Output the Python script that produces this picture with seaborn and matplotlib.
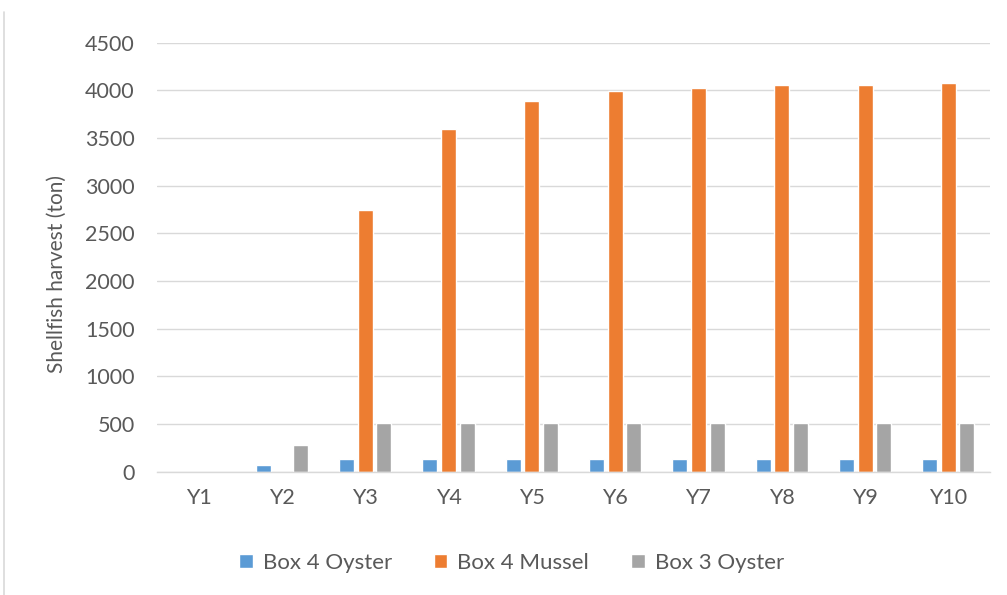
import matplotlib
matplotlib.use("Agg")
import matplotlib.pyplot as plt
from matplotlib.lines import Line2D
import seaborn as sns
import pandas as pd

years = ["Y1", "Y2", "Y3", "Y4", "Y5", "Y6", "Y7", "Y8", "Y9", "Y10"]
box4_oyster = [0, 70, 133, 133, 133, 133, 133, 133, 133, 133]
box4_mussel = [0, 0, 2750, 3590, 3885, 3990, 4030, 4055, 4055, 4075]
box3_oyster = [0, 280, 510, 510, 510, 510, 510, 510, 510, 510]
series_names = ["Box 4 Oyster", "Box 4 Mussel", "Box 3 Oyster"]
series_colors = ["#5b9bd5", "#ed7d31", "#a5a5a5"]
y_ticks = [0, 500, 1000, 1500, 2000, 2500, 3000, 3500, 4000, 4500]

records = []
for name, values in zip(series_names, [box4_oyster, box4_mussel, box3_oyster]):
    for yr, v in zip(years, values):
        records.append({"year": yr, "harvest": v, "series": name})
df = pd.DataFrame(records)

sns.set_theme(style="white")
plt.rcParams["font.family"] = ["Lato", "DejaVu Sans"]
text_color = "#595959"
grid_color = "#d9d9d9"

fig = plt.figure(figsize=(10.07, 5.95), dpi=100)
ax = fig.add_axes([157 / 1007, 1 - 471.7 / 595, 833 / 1007, 429 / 595])

sns.barplot(data=df, x="year", y="harvest", hue="series", order=years,
            hue_order=series_names, palette=series_colors, saturation=1,
            width=0.67, gap=0.19, errorbar=None, ax=ax)

ax.set_ylim(0, 4500)
ax.set_yticks(y_ticks)
ax.set_yticklabels([str(t) for t in y_ticks])
ax.yaxis.grid(True, color=grid_color, linewidth=1.0)
ax.set_axisbelow(True)
for side in ["top", "right", "left"]:
    ax.spines[side].set_visible(False)
ax.spines["bottom"].set_color(grid_color)
ax.spines["bottom"].set_linewidth(1.0)
ax.tick_params(axis="y", length=0, pad=16, labelsize=15.5, labelcolor=text_color)
ax.tick_params(axis="x", length=0, pad=12, labelsize=15.5, labelcolor=text_color)

ax.set_xlabel("")
ax.set_ylabel("Shellfish harvest (ton)", fontsize=15, color=text_color)
ax.yaxis.set_label_coords(-0.108, 0.46)

handles, labels = ax.get_legend_handles_labels()
ax.get_legend().remove()
fig.legend(handles, labels, loc="center", bbox_to_anchor=(0.508, 1 - 563 / 595),
           ncol=3, frameon=False, fontsize=16, labelcolor=text_color,
           handlelength=0.6, handleheight=0.6, handletextpad=0.45,
           columnspacing=1.9)

fig.add_artist(Line2D([4 / 1007, 4 / 1007], [0, 1 - 12 / 595],
                      transform=fig.transFigure, color=grid_color, linewidth=1.2))

fig.savefig("out.png", dpi=100)
